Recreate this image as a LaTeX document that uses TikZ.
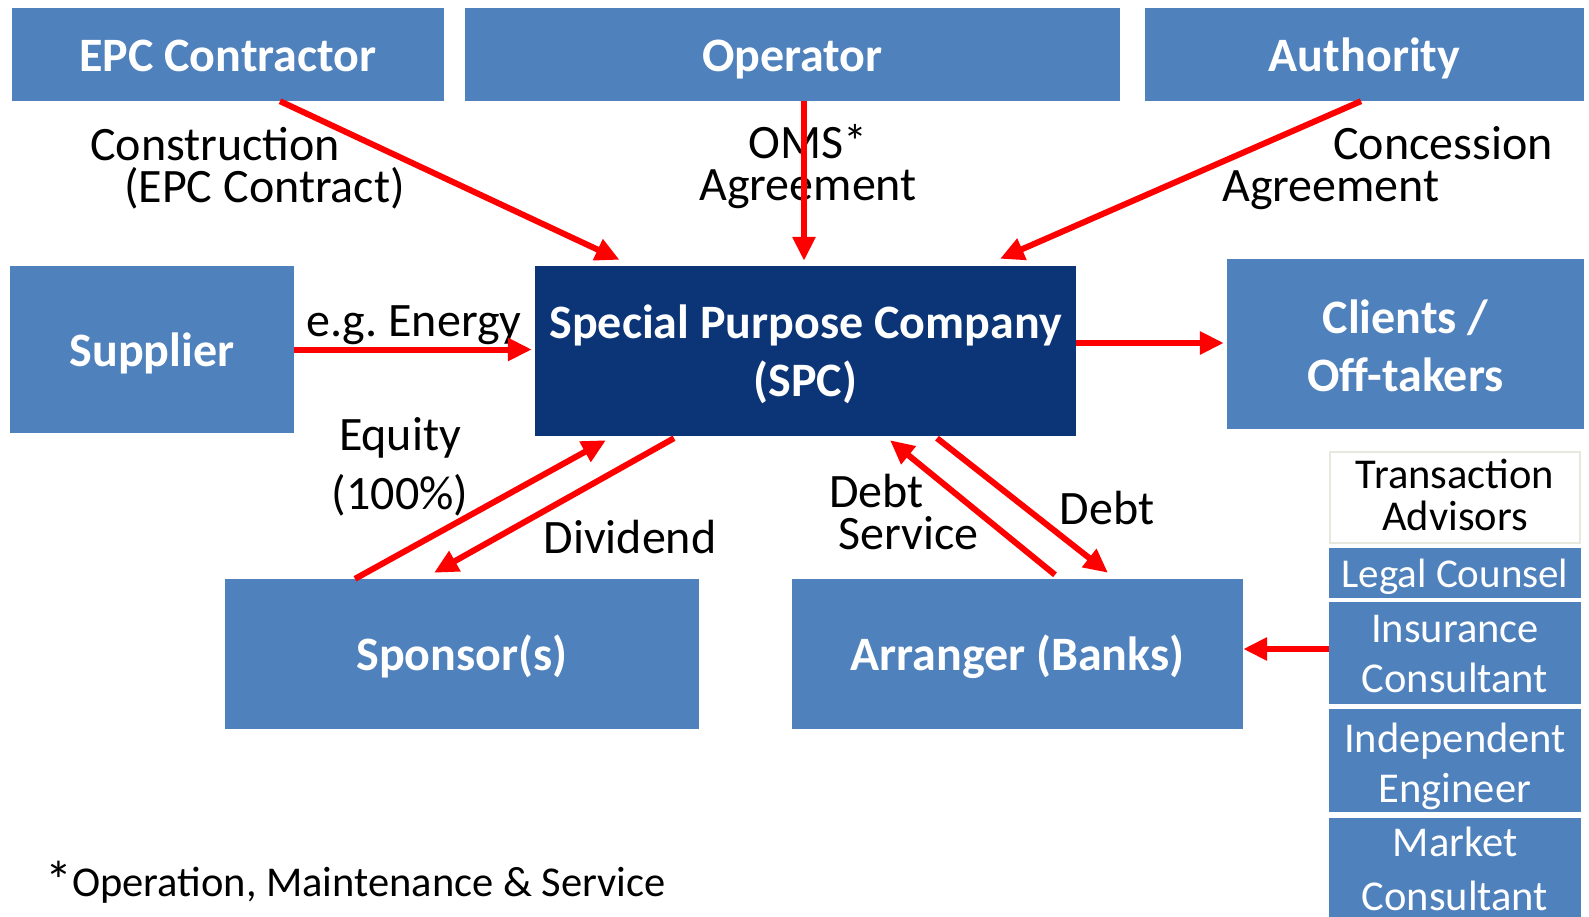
\documentclass[tikz,border=0pt]{standalone}
\usepackage{fontspec}
\setmainfont{Carlito}
\usetikzlibrary{arrows.meta,calc,positioning}
\definecolor{boxblue}{RGB}{79,129,189}
\definecolor{spcblue}{RGB}{12,53,120}
\definecolor{tagrey}{RGB}{232,232,222}
\newcommand{\titlesize}{\fontsize{48pt}{58pt}\selectfont}
\newcommand{\lblsize}{\fontsize{48pt}{42pt}\selectfont}
\newcommand{\advsize}{\fontsize{42.5pt}{50pt}\selectfont}
\newcommand{\lift}[1]{\rule{0pt}{#1}}
\newcommand{\drop}[1]{\rule[-#1]{0pt}{0pt}}
\tikzset{
    box/.style={fill=boxblue, text=white, font=\titlesize\bfseries,
    align=center, inner sep=0pt,
    execute at begin node={\rule{0pt}{1em}},
    execute at end node={\rule[-0.3em]{0pt}{0.3em}}},
    spcbox/.style={box, fill=spcblue},
    advbox/.style={fill=boxblue, text=white, font=\advsize, align=center,
    inner sep=0pt, minimum width=252pt},
    lbl/.style={font=\lblsize, align=center, inner sep=0pt},
    flow/.style={draw=red, line width=6pt, -{Triangle[length=24pt,width=22pt]}}
}

\begin{document}
\begin{tikzpicture}[x=1pt,y=-1pt]
    \useasboundingbox (0,0) rectangle (1589,917);
    % top row
    \node [box, minimum width=432pt, minimum height=93pt] (epc) at (228,54.5) {EPC Contractor};
    \node [box, minimum width=655pt, minimum height=93pt] (operator) at (792.5,54.5) {Operator};
    \node [box, minimum width=439pt, minimum height=93pt] (authority) at (1364.5,54.5) {Authority};
    % middle row
    \node [box, minimum width=284pt, minimum height=167pt] (supplier) at (152,349.5) {Supplier};
    \node [spcbox, minimum width=541pt, minimum height=170pt] (spc) at (805.5,351) {\lift{0.99em}Special Purpose Company\\(SPC)};
    \node [box, minimum width=357pt, minimum height=170pt] (clients) at (1405.5,344) {\lift{1.08em}Clients /\\Off-takers};
    % bottom row
    \node [box, minimum width=474pt, minimum height=150pt] (sponsor) at (462,654) {Sponsor(s)};
    \node [box, minimum width=451pt, minimum height=150pt] (arranger) at (1017.5,654) {Arranger (Banks)};
    % advisors
    \node [advbox, fill=white, text=black, draw=tagrey, line width=2pt, minimum width=250pt,
        minimum height=91pt] (ta) at (1455,497.5) {\lift{0.87em}Transaction\\[-8pt]Advisors\drop{0.3em}};
    \node [advbox, font=\fontsize{41pt}{50pt}\selectfont, minimum height=50pt] (legal) at (1455,573) {\lift{0.88em}Legal Counsel};
    \node [advbox, minimum height=102pt] (insurance) at (1455,653) {\lift{0.69em}Insurance\\Consultant};
    \node [advbox, minimum height=103pt] (engineer) at (1455,760.5) {\lift{0.99em}Independent\\Engineer};
    \node [advbox, minimum height=99pt] (market) at (1455,867.5) {\lift{0.78em}Market\\[4pt]Consultant};
    % labels
    \node [lbl, align=left, anchor=west] (construction) at (90,168) {Construction\\\hspace*{34pt}(EPC Contract)};
    \node [lbl] (oms) at (808,167) {OMS*\\Agreement};
    \node [lbl, align=left, anchor=west] (concession) at (1222,168) {\hspace*{111pt}Concession\\Agreement};
    \node [lbl] (energy) at (414,325) {e.g.\ Energy};
    \node [lbl] (equity) at (400,467) {Equity\\[15pt](100\%)};
    \node [lbl] (dividend) at (630,537) {Dividend};
    \node [lbl, align=left, anchor=west] (debtservice) at (829,512) {Debt\\\hspace*{9pt}Service};
    \node [lbl] (debt) at (1107,508) {Debt};
    \node [font=\advsize, anchor=west, inner sep=0pt] (note) at (45,882)
        {\raisebox{-3pt}{\fontsize{54pt}{54pt}\selectfont *}Operation, Maintenance \& Service};
    % flows
    \draw [flow] ([xshift=52pt]epc.south) -- ([xshift=-186pt,yshift=6pt]spc.north);
    \draw [flow] ([xshift=11.5pt]operator.south) -- ([xshift=-1.5pt,yshift=5pt]spc.north);
    \draw [flow] ([xshift=-3.5pt]authority.south) -- ([xshift=194.5pt,yshift=7pt]spc.north);
    \draw [flow, shorten >=3pt] (supplier.east) -- (supplier.east -| spc.west);
    \draw [flow, shorten >=3pt] ([yshift=8pt]spc.east) -- ([yshift=8pt]spc.east -| clients.west);
    \draw [flow] ([xshift=-107pt]sponsor.north) -- ([xshift=-199.5pt,yshift=-4pt]spc.south);
    \draw [flow] ([xshift=-131.5pt,yshift=-2pt]spc.south) -- ([xshift=-28pt,yshift=6pt]sponsor.north);
    \draw [flow] ([xshift=37.5pt,yshift=4pt]arranger.north) -- ([xshift=84.5pt,yshift=-4pt]spc.south);
    \draw [flow] ([xshift=131.5pt,yshift=-2pt]spc.south) -- ([xshift=90.5pt,yshift=6pt]arranger.north);
    \draw [flow] ([yshift=4pt]insurance.west) -- ([yshift=4pt]insurance.west -| arranger.east);
\end{tikzpicture}
\end{document}
